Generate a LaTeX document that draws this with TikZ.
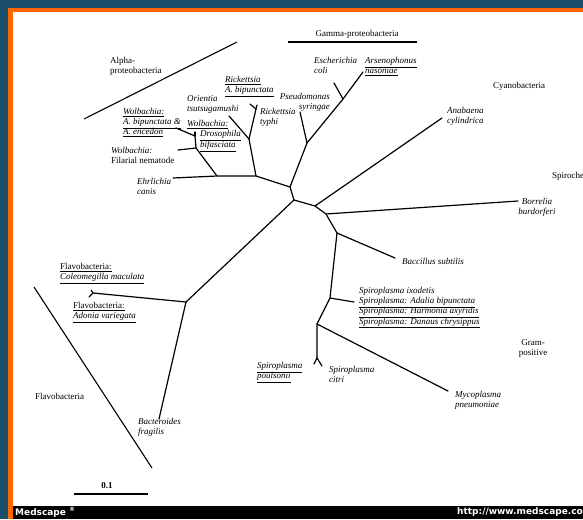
\documentclass[tikz,border=0pt]{standalone}
\usepackage{fontspec}
\setmainfont{Liberation Serif}
\newfontfamily\barfont{DejaVu Sans}
\definecolor{frameblue}{RGB}{26,78,106}
\definecolor{frameorange}{RGB}{255,102,0}
\newcommand\lblsize{\fontsize{9}{10.2}\selectfont}
\newcommand\undl[1]{\underline{#1}}

\begin{document}
\begin{tikzpicture}[x=1pt,y=-1pt,font=\lblsize,
  branch/.style={line width=1.2pt,line cap=round,line join=round},
  clade/.style={line width=1.1pt},
  lbl/.style={anchor=north west,inner sep=0pt,align=left,font=\lblsize},
  taxon/.style={lbl,font=\lblsize\itshape},
  barlbl/.style={anchor=west,inner sep=0pt,text=white,font=\barfont\bfseries\fontsize{9}{10}\selectfont}]
\fill[frameblue] (0,0) rectangle (583,519);
\fill[frameorange] (8,8) rectangle (583,519);
\fill[white] (13,12) rectangle (583,506);
\fill[black] (13,506) rectangle (583,519);
\useasboundingbox (0,0) rectangle (583,519);

% inner nodes of the tree
\coordinate (alpha) at (256,176);
\coordinate (wolb) at (217,176);
\coordinate (wolbfil) at (196,148);
\coordinate (wolbins) at (195,136);
\coordinate (rickor) at (249,139);
\coordinate (ricktyp) at (256,109);
\coordinate (proteo) at (290,187);
\coordinate (root) at (294,200);
\coordinate (cyano) at (315,206);
\coordinate (spiro) at (326,214);
\coordinate (gram) at (337,233);
\coordinate (mollic) at (330,298);
\coordinate (mycspi) at (317,324);
\coordinate (citri) at (317,358);
\coordinate (gamma) at (307,143);
\coordinate (enter) at (343,99);
\coordinate (flavo) at (186,302);
\coordinate (ladyb) at (93,293);

% leaves
\coordinate (t-ehr) at (173,178);
\coordinate (t-fil) at (178,150);
\coordinate (t-wab) at (176,128);
\coordinate (t-wdb) at (195,132);
\coordinate (t-ori) at (229,116);
\coordinate (t-rab) at (250,104);
\coordinate (t-rty) at (257,105);
\coordinate (t-esc) at (334,83);
\coordinate (t-ars) at (363,72);
\coordinate (t-pse) at (300,112);
\coordinate (t-ana) at (442,118);
\coordinate (t-bor) at (518,201);
\coordinate (t-bac) at (395,258);
\coordinate (t-spi) at (354,302);
\coordinate (t-myc) at (448,391);
\coordinate (t-cit) at (322,366);
\coordinate (t-pou) at (314,364);
\coordinate (t-col) at (91,290);
\coordinate (t-ado) at (89,297);
\coordinate (t-bfr) at (159,419);

\draw[branch] (t-ehr) -- (wolb) -- (alpha) -- (proteo) -- (root) -- (cyano) -- (spiro) -- (gram) -- (mollic) -- (mycspi) -- (citri);
\draw[branch] (wolb) -- (wolbfil) -- (t-fil);
\draw[branch] (wolbfil) -- (wolbins) -- (t-wab);
\draw[branch] (wolbins) -- (t-wdb);
\draw[branch] (alpha) -- (rickor) -- (t-ori);
\draw[branch] (rickor) -- (ricktyp) -- (t-rab);
\draw[branch] (ricktyp) -- (t-rty);
\draw[branch] (proteo) -- (gamma) -- (t-pse);
\draw[branch] (gamma) -- (enter) -- (t-esc);
\draw[branch] (enter) -- (t-ars);
\draw[branch] (cyano) -- (t-ana);
\draw[branch] (spiro) -- (t-bor);
\draw[branch] (gram) -- (t-bac);
\draw[branch] (mollic) -- (t-spi);
\draw[branch] (mycspi) -- (t-myc);
\draw[branch] (citri) -- (t-cit);
\draw[branch] (citri) -- (t-pou);
\draw[branch] (root) -- (flavo) -- (t-bfr);
\draw[branch] (flavo) -- (ladyb) -- (t-col);
\draw[branch] (ladyb) -- (t-ado);

% group brackets
\coordinate (alpha-a) at (84,119);
\coordinate (alpha-b) at (237,42);
\draw[clade] (alpha-a) -- (alpha-b);
\coordinate (gamma-a) at (288,42);
\coordinate (gamma-b) at (417,42);
\draw[clade] (gamma-a) -- (gamma-b);
\coordinate (flavo-a) at (34,287);
\coordinate (flavo-b) at (152,468);
\draw[clade] (flavo-a) -- (flavo-b);

\node[lbl] (n-alpha) at (110,57) {Alpha-\\proteobacteria};
\node[lbl,anchor=north] (n-gamma) at (357,30) {Gamma-proteobacteria};
\node[lbl] (n-cyano) at (493,82) {Cyanobacteria};
\node[lbl,anchor=north,align=center] (n-gram) at (533,339) {Gram-\\positive};
\node[lbl] (n-flavo) at (35,393) {Flavobacteria};
\begin{scope}
\clip (13,12) rectangle (583,506);
\node[lbl] (n-spiro) at (552,172) {Spirochetes};
\end{scope}

\node[taxon] (l-rab) at (225,76) {\undl{Rickettsia}\\\undl{A. bipunctata}};
\node[taxon] (l-ori) at (187,95) {Orientia\\tsutsugamushi};
\node[taxon] (l-rty) at (260,108) {Rickettsia\\typhi};
\node[taxon] (l-wab) at (123,108) {\undl{Wolbachia:}\\\undl{A. bipunctata \&}\\\undl{A. encedon}};
\node[taxon] (l-wdb) at (187,120) {\undl{Wolbachia:}};
\node[taxon] (l-dro) at (200,130) {\undl{Drosophila}\\\undl{bifasciata}};
\node[lbl] (l-fil) at (111,147) {\textit{Wolbachia:}\\Filarial nematode};
\node[taxon] (l-ehr) at (137,178) {Ehrlichia\\canis};
\node[taxon] (l-esc) at (314,57) {Escherichia\\coli};
\node[taxon] (l-ars) at (365,57) {\undl{Arsenophonus}\\\undl{nasoniae}};
\node[taxon,anchor=north east,align=right] (l-pse) at (330,93) {Pseudomonas\\syringae};
\node[taxon] (l-ana) at (447,107) {Anabaena\\cylindrica};
\node[taxon,anchor=north,align=center] (l-bor) at (537,198) {Borrelia\\burdorferi};
\node[taxon] (l-bac) at (402,258) {Baccillus subtilis};
\node[taxon] (l-spi) at (359,287) {Spiroplasma ixodetis\\\undl{Spiroplasma: Adalia bipunctata}\\\undl{Spiroplasma: Harmonia axyridis}\\\undl{Spiroplasma: Danaus chrysippus}};
\node[taxon] (l-myc) at (455,391) {Mycoplasma\\pneumoniae};
\node[taxon] (l-cit) at (329,366) {Spiroplasma\\citri};
\node[taxon] (l-pou) at (257,362) {\undl{Spiroplasma}\\\undl{poulsonii}};
\node[lbl] (l-col) at (60,263) {\undl{Flavobacteria:}\\\undl{\textit{Coleomegilla maculata}}};
\node[lbl] (l-ado) at (73,302) {\undl{Flavobacteria:}\\\undl{\textit{Adonia variegata}}};
\node[taxon] (l-bfr) at (138,418) {Bacteroides\\fragilis};

% scale bar
\coordinate (bar-a) at (74,494);
\coordinate (bar-b) at (148,494);
\draw[line width=1.2pt] (bar-a) -- (bar-b);
\node[lbl,anchor=north,font=\lblsize\bfseries] (n-bar) at (107,482) {0.1};

\begin{scope}
\clip (13,506) rectangle (583,519);
\node[barlbl] (n-medscape) at (15,512.5) {Medscape \textsuperscript{®}};
\node[barlbl] (n-url) at (457,512.5) {http://www.medscape.com};
\end{scope}
\end{tikzpicture}
\end{document}
